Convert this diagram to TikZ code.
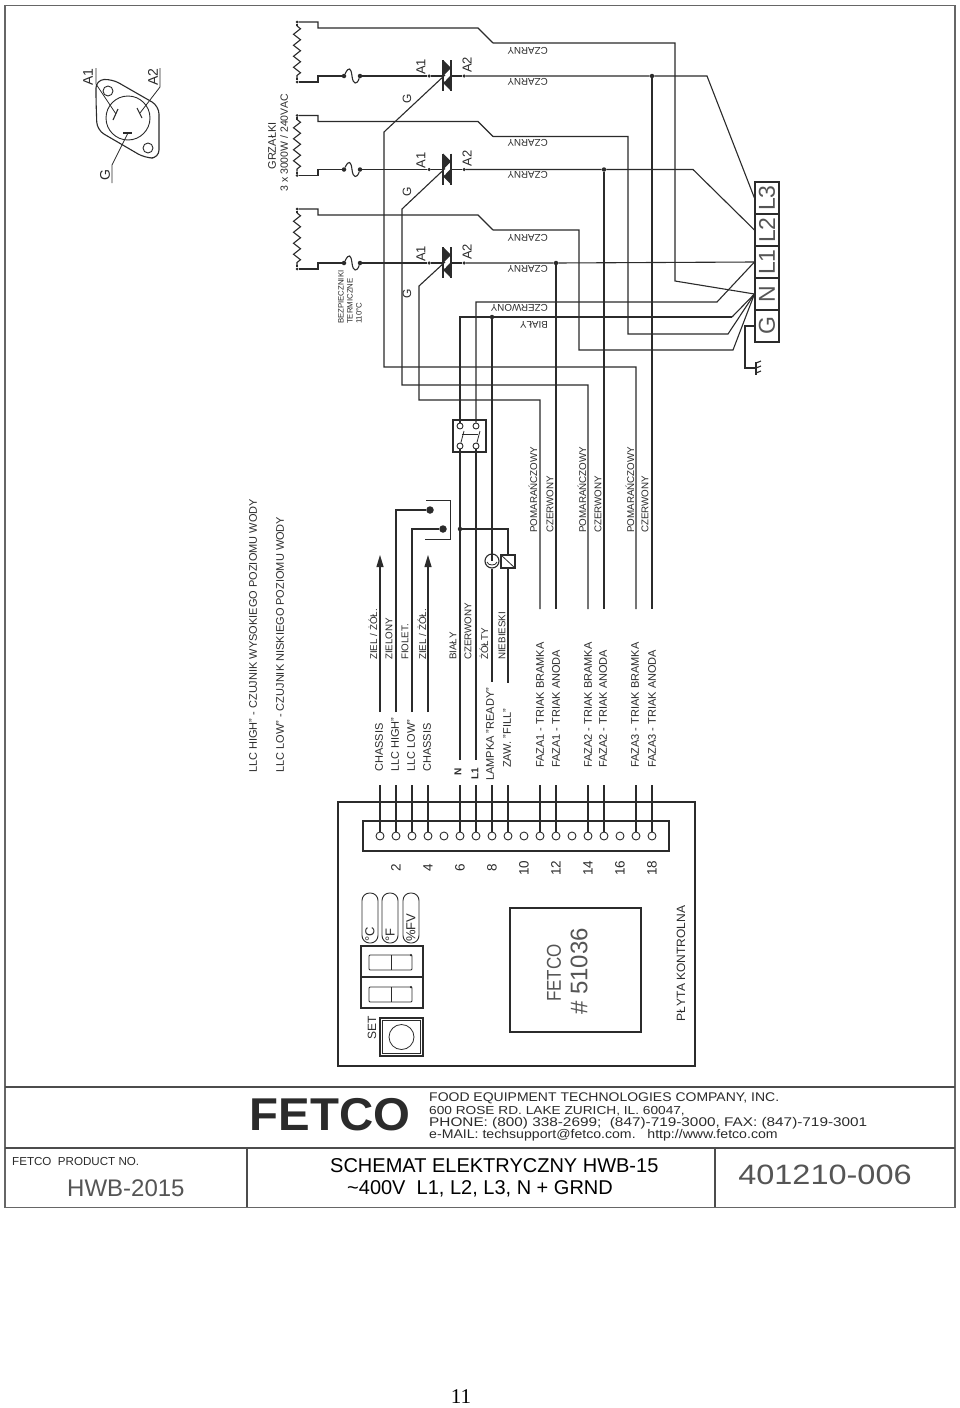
\documentclass[tikz,border=0pt]{standalone}
\usepackage{fontspec}
\setmainfont{Liberation Sans}
\newfontfamily\pagefont{Liberation Serif}
\usetikzlibrary{arrows.meta,decorations.pathmorphing}
\definecolor{inkc}{HTML}{2B2B2B}
\definecolor{thinc}{HTML}{555555}
\tikzset{
    sz/.style={font=\fontsize{#1}{#1}\selectfont},
    wire/.style={draw=inkc, line width=1.1pt},
    thinw/.style={draw=inkc, line width=.8pt},
    jdot/.style={circle, fill=inkc, inner sep=0pt, minimum size=4.5pt},
    pinc/.style={draw=inkc, circle, line width=.9pt, inner sep=0pt, minimum size=8pt},
    vlab/.style={rotate=90, anchor=west, inner sep=0pt, text=inkc},
    ulab/.style={rotate=180, anchor=west, inner sep=0pt, text=inkc, sz=9.8},
    hlab/.style={anchor=west, inner sep=0pt, text=inkc},
    termbox/.style={draw=inkc, line width=1.1pt, inner sep=0pt, minimum width=24pt, minimum height=32pt, sz=23, text=thinc},
    pillb/.style={draw=inkc, line width=.9pt, rounded corners=7.5pt, inner sep=0pt, minimum width=16pt, minimum height=50pt}
}
\begin{document}
\begin{tikzpicture}[x=1pt,y=-1pt]
    \useasboundingbox (0,0) rectangle (960,1408);
    \fill[white] (0,0) rectangle (960,1408);

    \foreach \n/\dy in {a/0,b/93.5,c/187} {
        \coordinate (ht\n) at (297,22+\dy);
        \coordinate (hb\n) at (297,82+\dy);
        \coordinate (zt\n) at (297,26+\dy);
        \coordinate (zb\n) at (297,78+\dy);
        \node [jdot, minimum size=3pt] (hdt\n) at (ht\n) {};
        \node [jdot, minimum size=3pt] (hdb\n) at (hb\n) {};
        \draw [wire] (hdt\n) -- (zt\n);
        \draw [wire] (zb\n) -- (hdb\n);
        \draw [wire, decorate, decoration={zigzag, segment length=11pt, amplitude=3.5pt}] (zt\n) -- (zb\n);
        \node [jdot] (fa\n) at (344,76+\dy) {};
        \node [jdot] (fb\n) at (360,76+\dy) {};
        \node [jdot, minimum size=3.5pt] (a1\n) at (429,76+\dy) {};
        \node [jdot, minimum size=3.5pt] (a2\n) at (464,76+\dy) {};
        \coordinate (tl\n) at (443,76+\dy);
        \coordinate (tr\n) at (451,76+\dy);
        \coordinate (et\n) at (493,43+\dy);
        \draw [wire] (hdt\n) -- (318,22+\dy) -- (318,28+\dy) -- (478,28+\dy) -- (et\n);
        \draw [wire] (hdb\n) -- (318,82+\dy) -- (318,76+\dy) -- (fa\n);
        \draw [wire] (fa\n) .. controls (349,66+\dy) and (351,68+\dy) .. (352,76+\dy) .. controls (353,85+\dy) and (357,85+\dy) .. (fb\n);
        \draw [wire] (fb\n) -- (a1\n) -- (tl\n);
        \draw [wire] (tr\n) -- (a2\n);
        \fill [inkc] (443,60+\dy) -- (443,76+\dy) -- (451,68+\dy) -- cycle;
        \fill [inkc] (451,75+\dy) -- (451,91+\dy) -- (443,83+\dy) -- cycle;
        \draw [wire] (443,60+\dy) -- (443,91+\dy);
        \draw [wire] (451,60+\dy) -- (451,91+\dy);
        \draw [white, line width=.8pt] (445,81+\dy) -- (449,71+\dy);
        \node [vlab, sz=13] (la1\n) at (421,75+\dy) {A1};
        \node [vlab, sz=13] (la2\n) at (467,73+\dy) {A2};
    }

    \node [termbox] (L3) at (767,198) {\rotatebox{90}{L3}};
    \node [termbox] (L2) at (767,230) {\rotatebox{90}{L2}};
    \node [termbox] (L1) at (767,262) {\rotatebox{90}{L1}};
    \node [termbox] (N) at (767,294) {\rotatebox{90}{N}};
    \node [termbox] (G) at (767,326) {\rotatebox{90}{G}};

    \node [jdot] (ja) at (652,76) {};
    \node [jdot] (jb) at (604,169.5) {};
    \node [jdot] (jc) at (556,263) {};
    \node [jdot] (jw) at (492,317) {};
    \node [jdot] (jn) at (460,529) {};

    \draw [wire] (a2a) -- (ja) -- (707,76) -- (L3.west);
    \draw [wire] (a2b) -- (jb) -- (693,169.5) -- (L2.west);
    \draw [wire] (a2c) -- (jc) -- (L1.west);
    \draw [wire] (eta) -- (675,43) -- (675,281) -- (N.west);
    \draw [wire] (etb) -- (628,136.5) -- (628,334) -- (728,334) -- (N.west);
    \draw [wire] (etc) -- (579,230) -- (579,350) -- (733,350) -- (N.west);

    \foreach \i/\x in {1/380,2/396,3/412,4/428,5/444,6/460,7/476,8/492,9/508,10/524,11/540,12/556,13/572,14/588,15/604,16/620,17/636,18/652} {
        \node [pinc] (t\i) at (\x,836) {};
    }
    \foreach \i/\x in {1/380,2/396,3/412,4/428,6/460,7/476,8/492,9/508,11/540,12/556,14/588,15/604,17/636,18/652} {
        \coordinate (lo\i) at (\x,785);
        \draw [wire] (lo\i) -- (t\i);
    }
    \foreach \i/\x in {11/540,12/556,14/588,15/604,17/636,18/652} {
        \coordinate (up\i) at (\x,609);
    }
    \draw [wire] (ja) -- (up18);
    \draw [wire] (jb) -- (up15);
    \draw [wire] (jc) -- (up12);
    \coordinate (ga) at (445,75);
    \coordinate (gb) at (445,168.5);
    \coordinate (gc) at (445,262);
    \draw [wire] (ga) -- (384,132) -- (384,367) -- (636,367) -- (up17);
    \draw [wire] (gb) -- (402,209) -- (402,385) -- (588,385) -- (up14);
    \draw [wire] (gc) -- (419,286) -- (419,400) -- (540,400) -- (up11);

    \node [draw=inkc, line width=1.1pt, inner sep=0pt, minimum width=33pt, minimum height=32pt] (swbox) at (469.5,436) {};
    \node [pinc, minimum size=6pt] (sw1) at (460,426) {};
    \node [pinc, minimum size=6pt] (sw2) at (476,426) {};
    \node [pinc, minimum size=6pt] (sw3) at (460,446) {};
    \node [pinc, minimum size=6pt] (sw4) at (476,446) {};
    \draw [thinw] (sw3) -- (464,431);
    \draw [thinw] (sw4) -- (480,431);
    \draw [thinw] (462,434) -- (478,434);

    \coordinate (nend) at (460,760);
    \coordinate (lend) at (476,760);
    \coordinate (yend) at (492,682);
    \coordinate (bend) at (508,683);
    \node [draw=inkc, circle, line width=1.1pt, inner sep=0pt, minimum size=14pt] (lamp) at (492,561) {};
    \node [draw=inkc, line width=1.1pt, inner sep=0pt, minimum width=14pt, minimum height=13pt] (zaw) at (508,561.5) {};
    \draw [thinw] (zaw.north west) -- (zaw.south east);
    \draw [thinw] (487,562) .. controls (488,566) and (496,566) .. (497,562);

    \draw [wire] (732,317) -- (460,317) -- (sw1);
    \draw [wire] (sw3) -- (jn) -- (nend);
    \draw [wire] (N.west) -- (732,317);
    \draw [wire] (L1.west) -- (717,302) -- (476,302) -- (sw2);
    \draw [wire] (sw4) -- (lend);
    \draw [wire] (jw) -- (lamp.center);
    \draw [wire] (lamp) -- (yend);
    \draw [wire] (jn) -- (508,529) -- (zaw);
    \draw [wire] (zaw) -- (bend);

    \coordinate (aa) at (380,712);
    \coordinate (ab) at (380,555);
    \coordinate (ac) at (428,712);
    \coordinate (ad) at (428,555);
    \draw [wire, -{Triangle[length=12pt,width=7pt]}] (aa) -- (ab);
    \draw [wire, -{Triangle[length=12pt,width=7pt]}] (ac) -- (ad);
    \coordinate (hi) at (396,712);
    \coordinate (lw) at (412,712);
    \node [jdot, minimum size=7.5pt] (dhi) at (430,510) {};
    \node [jdot, minimum size=7.5pt] (dlw) at (443,529) {};
    \draw [wire] (hi) -- (396,510) -- (dhi);
    \draw [wire] (lw) -- (412,529) -- (dlw);
    \draw [thinw] (426,500) -- (450,500) -- (450,539) -- (425,539);

    \coordinate (ge) at (745,368);
    \draw [wire] (G.west) -- (745,326) -- (ge) -- (756,368);
    \draw [wire] (756,362) -- (756,375);
    \draw [wire] (756,363) -- (761,361);
    \draw [wire] (756,368) -- (761,366);
    \draw [wire] (756,373) -- (761,371);

    \node [ulab] (cz1) at (548,51) {CZARNY};
    \node [ulab] (cz2) at (548,82) {CZARNY};
    \node [ulab] (cz3) at (548,143) {CZARNY};
    \node [ulab] (cz4) at (548,175) {CZARNY};
    \node [ulab] (cz5) at (548,238) {CZARNY};
    \node [ulab] (cz6) at (548,269) {CZARNY};
    \node [ulab] (czw) at (548,308) {CZERWONY};
    \node [ulab] (bia) at (548,325) {BIAŁY};

    \node [vlab, sz=12] (ga1) at (407,104) {G};
    \node [vlab, sz=12] (ga2) at (407,197) {G};
    \node [vlab, sz=12] (ga3) at (407,299) {G};
    \node [vlab, sz=11, anchor=center] (grz) at (272,146) {GRZAŁKI};
    \node [vlab, sz=10.5, anchor=center] (grv) at (284,143) {3 x 3000W / 240VAC};
    \node [vlab, sz=7.8] (bez) at (341,324) {BEZPIECZNIKI};
    \node [vlab, sz=7.8] (ter) at (350,324) {TERMICZNE};
    \node [vlab, sz=7.8] (tst) at (359,324) {110°C};

    \node [vlab, sz=11] (ll1) at (253,773) {LLC HIGH" - CZUJNIK WYSOKIEGO POZIOMU WODY};
    \node [vlab, sz=11] (ll2) at (280,773) {LLC LOW" - CZUJNIK NISKIEGO POZIOMU WODY};

    \node [vlab, sz=9.8] (cl1) at (373,660) {ZIEL / ŻÓŁ.};
    \node [vlab, sz=9.8] (cl2) at (389,660) {ZIELONY};
    \node [vlab, sz=9.8] (cl3) at (405,660) {FIOLET.};
    \node [vlab, sz=9.8] (cl4) at (422,660) {ZIEL / ŻÓŁ.};
    \node [vlab, sz=9.8] (cl6) at (453,660) {BIAŁY};
    \node [vlab, sz=9.8] (cl7) at (468,660) {CZERWONY};
    \node [vlab, sz=9.8] (cl8) at (484,660) {ŻÓŁTY};
    \node [vlab, sz=9.8] (cl9) at (502,660) {NIEBIESKI};

    \node [vlab, sz=9.8] (fc1) at (533,533) {POMARAŃCZOWY};
    \node [vlab, sz=9.8] (fc2) at (550,533) {CZERWONY};
    \node [vlab, sz=9.8] (fc3) at (582,533) {POMARAŃCZOWY};
    \node [vlab, sz=9.8] (fc4) at (598,533) {CZERWONY};
    \node [vlab, sz=9.8] (fc5) at (630,533) {POMARAŃCZOWY};
    \node [vlab, sz=9.8] (fc6) at (645,533) {CZERWONY};

    \node [vlab, sz=11] (nm1) at (379,772) {CHASSIS};
    \node [vlab, sz=11] (nm2) at (395,772) {LLC HIGH"};
    \node [vlab, sz=11] (nm3) at (411,772) {LLC LOW"};
    \node [vlab, sz=11] (nm4) at (427,772) {CHASSIS};
    \node [vlab, font=\fontsize{10}{10}\selectfont\bfseries] (nm6) at (458,776) {N};
    \node [vlab, font=\fontsize{10}{10}\selectfont\bfseries] (nm7) at (475,780) {L1};
    \node [vlab, sz=11] (nm8) at (490,781) {LAMPKA "READY"};
    \node [vlab, sz=11] (nm9) at (507,768) {ZAW. "FILL"};
    \node [vlab, sz=11] (nf1) at (540,768) {FAZA1 - TRIAK BRAMKA};
    \node [vlab, sz=11] (nf2) at (556,768) {FAZA1 - TRIAK ANODA};
    \node [vlab, sz=11] (nf3) at (588,768) {FAZA2 - TRIAK BRAMKA};
    \node [vlab, sz=11] (nf4) at (603,768) {FAZA2 - TRIAK ANODA};
    \node [vlab, sz=11] (nf5) at (635,768) {FAZA3 - TRIAK BRAMKA};
    \node [vlab, sz=11] (nf6) at (652,768) {FAZA3 - TRIAK ANODA};

    \node [draw=inkc, line width=1.2pt, inner sep=0pt, minimum width=357pt, minimum height=264pt] (panel) at (516.5,934) {};
    \node [draw=inkc, line width=1.1pt, inner sep=0pt, minimum width=306pt, minimum height=30pt] (strip) at (516,836) {};
    \foreach \v/\x in {2/396,4/428,6/460,8/492,10/524,12/556,14/588,16/620,18/652} {
        \node [vlab, sz=13.5, anchor=center] (no\v) at (\x,868) {\v};
    }
    \node [draw=inkc, line width=1.1pt, inner sep=0pt, minimum width=131pt, minimum height=124pt] (chip) at (575.5,970) {};
    \node [vlab, sz=20, anchor=center, text=thinc] (chf) at (554,973) {\scalebox{.85}[1]{FETCO}};
    \node [vlab, sz=24, anchor=center, text=thinc] (chn) at (579,971.5) {\# 51036};
    \node [vlab, sz=12, anchor=center] (ptk) at (681,963.5) {PŁYTA KONTROLNA};

    \node [pillb] (pa) at (370,918) {};
    \node [pillb] (pb) at (390,918) {};
    \node [pillb] (pc) at (411,918) {};
    \node [vlab, sz=13] (pat) at (370,942) {°C};
    \node [vlab, sz=13] (pbt) at (390,942) {°F};
    \node [vlab, sz=13] (pct) at (411,942) {\%FV};
    \node [draw=inkc, line width=1.1pt, inner sep=0pt, minimum width=62pt, minimum height=31pt] (dsa) at (392,961.5) {};
    \node [draw=inkc, line width=1.1pt, inner sep=0pt, minimum width=62pt, minimum height=31pt] (dsb) at (392,992.5) {};
    \foreach \n/\dy in {a/0,b/32} {
        \draw [thinw, rounded corners=1pt] (369,955+\dy) rectangle (412,970+\dy);
        \draw [thinw] (391,955+\dy) -- (391,970+\dy);
        \node [jdot, minimum size=2.5pt] (dp\n) at (411,955+\dy) {};
    }
    \node [draw=inkc, line width=1.1pt, inner sep=0pt, minimum width=43pt, minimum height=38pt] (setb) at (401.5,1037) {};
    \node [draw=inkc, line width=.6pt, inner sep=0pt, minimum width=38pt, minimum height=33pt] (setc) at (401.5,1037) {};
    \node [draw=inkc, circle, line width=.8pt, inner sep=0pt, minimum size=25pt] (setk) at (401.5,1037) {};
    \node [vlab, sz=12] (sett) at (372,1040) {SET};

    \node [draw=inkc, circle, line width=.9pt, inner sep=0pt, minimum size=44pt] (plug) at (128,118) {};
    \draw [wire, rounded corners=8pt] (96,100) -- (96,80) -- (112,79) -- (159,106) -- (159,158) -- (145,158) -- (97,130) -- cycle;
    \node [draw=inkc, circle, line width=.9pt, inner sep=0pt, minimum size=10pt] (hl1) at (108,91) {};
    \node [draw=inkc, circle, line width=.9pt, inner sep=0pt, minimum size=10pt] (hl2) at (148,148) {};
    \draw [wire] (118,109) -- (113,120);
    \draw [wire] (137,108) -- (142,118);
    \draw [wire] (123,133) -- (132,133);
    \coordinate (pa1) at (116,114);
    \coordinate (pa2) at (140,113);
    \coordinate (pg) at (128,133);
    \draw [thinw] (pa1) -- (96,84) -- (96,68);
    \draw [thinw] (pa2) -- (160,87) -- (160,68);
    \draw [thinw] (pg) -- (112,165) -- (112,183);
    \node [vlab, sz=14] (ca1) at (88,86) {A1};
    \node [vlab, sz=14] (ca2) at (153,86) {A2};
    \node [vlab, sz=14] (cg) at (105,181) {G};

    \node [draw=black!60, line width=1.5pt, inner sep=0pt, minimum width=950pt, minimum height=1202pt] (frame) at (480,606.5) {};
    \coordinate (ra) at (5,1087);
    \coordinate (rb) at (955,1087);
    \coordinate (rc) at (5,1148);
    \coordinate (rd) at (955,1148);
    \coordinate (re) at (247,1148);
    \coordinate (rf) at (247,1207);
    \coordinate (rg) at (715,1148);
    \coordinate (rh) at (715,1207);
    \draw [draw=black!70, line width=1.2pt] (ra) -- (rb);
    \draw [draw=black!70, line width=1.2pt] (rc) -- (rd);
    \draw [draw=black!70, line width=1.2pt] (re) -- (rf);
    \draw [draw=black!70, line width=1.2pt] (rg) -- (rh);

    \node [inner sep=0pt, text=inkc, font=\fontsize{46}{46}\selectfont\bfseries] (logo) at (330,1115) {\scalebox{1.03}[1]{FETCO}};
    \node [hlab, sz=12.6] (ad1) at (429,1098) {\scalebox{1.11}[1]{FOOD EQUIPMENT TECHNOLOGIES COMPANY, INC.}};
    \node [hlab, sz=11.6] (ad2) at (429,1111) {\scalebox{1.18}[1]{600 ROSE RD. LAKE ZURICH, IL. 60047,}};
    \node [hlab, sz=12.6] (ad3) at (429,1123) {\scalebox{1.217}[1]{PHONE: (800) 338-2699;\ \ (847)-719-3000, FAX: (847)-719-3001}};
    \node [hlab, sz=12.6] (ad4) at (429,1135) {\scalebox{1.12}[1]{e-MAIL: techsupport@fetco.com.\ \ \ http://www.fetco.com}};
    \node [hlab, sz=11.6] (prn) at (12,1161) {FETCO\ \ PRODUCT NO.};
    \node [hlab, sz=24, text=thinc] (prv) at (67,1188) {HWB-2015};
    \node [hlab, sz=20, text=black] (ti1) at (330,1166) {SCHEMAT ELEKTRYCZNY HWB-15};
    \node [hlab, sz=20, text=black] (ti2) at (347,1189) {\textasciitilde 400V\ \ L1, L2, L3, N + GRND};
    \node [inner sep=0pt, text=thinc, sz=28] (dwg) at (825,1175) {\scalebox{1.16}[1]{401210-006}};

    \node [inner sep=0pt, text=black, font=\pagefont\fontsize{21}{21}\selectfont] (pg11) at (461,1397) {11};
\end{tikzpicture}
\end{document}
